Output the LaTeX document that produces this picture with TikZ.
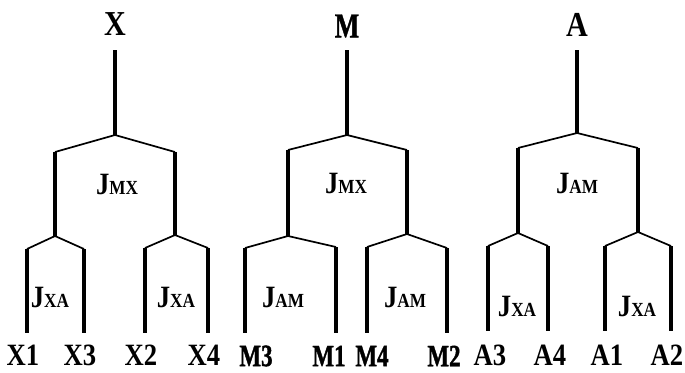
\documentclass[tikz,border=0pt]{standalone}
\usepackage{fontspec}
\setmainfont{Liberation Serif}[FakeStretch=0.86]
\newfontfamily\narrowfont{Liberation Serif}[FakeStretch=0.74,FakeBold=1.2]
\usetikzlibrary{positioning}

\newcommand{\Jsub}[1]{J{\fontsize{20}{20}\selectfont #1}}

\begin{document}
\begin{tikzpicture}[x=1pt,y=-1pt,
  trunk/.style={line width=3.6pt},
  twig/.style={line width=1.7pt,line join=miter},
  lbl/.style={inner sep=0pt,font=\fontsize{31}{31}\selectfont\bfseries},
  mlbl/.style={inner sep=0pt,font=\fontsize{31}{31}\selectfont\narrowfont\bfseries},
  big/.style={inner sep=0pt,font=\fontsize{35}{35}\selectfont\bfseries}]

\useasboundingbox (0,0) rectangle (685,372);

% tree X
\node[big] (X) at (115,24) {X};
\coordinate (xtop) at (115,50);
\coordinate (xroot) at (115,135);
\coordinate (xl) at (55,152);
\coordinate (xr) at (175,152);
\coordinate (xlb) at (55,236);
\coordinate (xrb) at (175,235);
\foreach \n/\x/\y in {1/27/249,3/84/249,2/145/248,4/208/248}{
  \coordinate (x\n t) at (\x,\y);
  \coordinate (x\n b) at (\x,333);
  \node[lbl] (X\n) at (\x-4,355) {X\n};
}
\draw[trunk] (xtop)--(xroot);
\draw[twig] (xl)--(xroot)--(xr);
\draw[trunk] (xl)--(xlb);
\draw[trunk] (xr)--(xrb);
\draw[twig] (x1t)--(xlb)--(x3t);
\draw[twig] (x2t)--(xrb)--(x4t);
\foreach \n in {1,2,3,4}
  \draw[trunk] (x\n t)--(x\n b);
\node[lbl] (xjmx) at (117,184) {\Jsub{MX}};
\node[lbl] (xjxa1) at (50,297) {\Jsub{XA}};
\node[lbl] (xjxa2) at (176,297) {\Jsub{XA}};

% tree M
\node[big,font=\fontsize{35}{35}\selectfont\narrowfont\bfseries] (M) at (347,26) {M};
\coordinate (mtop) at (347,50);
\coordinate (mroot) at (347,135);
\coordinate (ml) at (288,150);
\coordinate (mr) at (407,150);
\coordinate (mlb) at (288,236);
\coordinate (mrb) at (407,234);
\foreach \n/\x/\y/\lx in {3/245/248/256,1/336/247/329,4/367/247/372,2/447/248/444}{
  \coordinate (m\n t) at (\x,\y);
  \coordinate (m\n b) at (\x,333);
  \node[mlbl] (M\n) at (\lx,356) {M\n};
}
\draw[trunk] (mtop)--(mroot);
\draw[twig] (ml)--(mroot)--(mr);
\draw[trunk] (ml)--(mlb);
\draw[trunk] (mr)--(mrb);
\draw[twig] (m3t)--(mlb)--(m1t);
\draw[twig] (m4t)--(mrb)--(m2t);
\foreach \n in {1,2,3,4}
  \draw[trunk] (m\n t)--(m\n b);
\node[lbl] (mjmx) at (346,183) {\Jsub{MX}};
\node[lbl] (mjam1) at (283,297) {\Jsub{AM}};
\node[lbl] (mjam2) at (405,297) {\Jsub{AM}};

% tree A
\node[big] (A) at (577,25) {A};
\coordinate (atop) at (577,50);
\coordinate (aroot) at (577,133);
\coordinate (al) at (518,148);
\coordinate (ar) at (638,148);
\coordinate (alb) at (518,233);
\coordinate (arb) at (638,232);
\foreach \n/\x/\lx in {3/488/490,4/548/550,1/605/607,2/671/667}{
  \coordinate (a\n t) at (\x,246);
  \coordinate (a\n b) at (\x,331);
  \node[lbl] (A\n) at (\lx,355) {A\n};
}
\draw[trunk] (atop)--(aroot);
\draw[twig] (al)--(aroot)--(ar);
\draw[trunk] (al)--(alb);
\draw[trunk] (ar)--(arb);
\draw[twig] (a3t)--(alb)--(a4t);
\draw[twig] (a1t)--(arb)--(a2t);
\foreach \n in {1,2,3,4}
  \draw[trunk] (a\n t)--(a\n b);
\node[lbl] (ajam) at (577,183) {\Jsub{AM}};
\node[lbl] (ajxa1) at (517,306) {\Jsub{XA}};
\node[lbl] (ajxa2) at (637,306) {\Jsub{XA}};

\end{tikzpicture}
\end{document}
